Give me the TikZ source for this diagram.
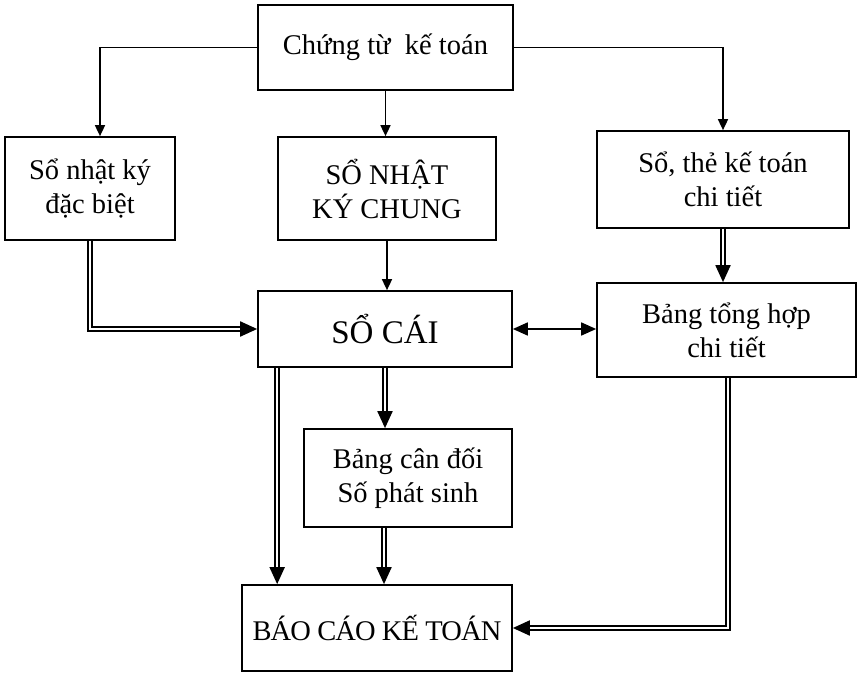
\documentclass[tikz,border=0pt]{standalone}
\usepackage{fontspec}
\setmainfont{Liberation Serif}
\usetikzlibrary{arrows.meta,calc}

\begin{document}
\begin{tikzpicture}[
  x=1pt,y=-1pt,
  font=\fontsize{28.5}{34}\selectfont,
  box/.style={draw,line width=1.7pt,align=center,inner sep=2pt},
  arr/.style={-{Triangle[length=11pt,width=10pt]},line width=1.6pt},
  dbl/.style={-{Triangle[length=17pt,width=15pt]},double,double distance=1.8pt,line width=1.9pt},
  both/.style={{Triangle[length=15pt,width=13pt]}-{Triangle[length=15pt,width=13pt]},line width=1.7pt}
]
\useasboundingbox (0,0) rectangle (859,674);

% boxes
\node[box,minimum width=255pt,minimum height=85pt]  (ctu)  at (385.5,47.5) {Chứng từ\ \ kế toán};
\node[box,minimum width=170pt,minimum height=103pt] (nkdb) at (90,188.5) {Sổ nhật ký\\đặc biệt};
\node[box,minimum width=218pt,minimum height=103pt] (nkc)  at (387,188.5) {SỔ NHẬT\\KÝ CHUNG};
\node[box,minimum width=252pt,minimum height=97pt]  (sct)  at (723,179.5) {Sổ, thẻ kế toán\\chi tiết};
\node[box,minimum width=254pt,minimum height=76pt,font=\fontsize{33}{38}\selectfont] (soc) at (385,329) {SỔ CÁI};
\node[box,minimum width=259pt,minimum height=94pt]  (bth)  at (726.5,330) {Bảng tổng hợp\\chi tiết};
\node[box,minimum width=208pt,minimum height=98pt]  (bcd)  at (408,478) {Bảng cân đối\\ Số phát sinh};
\node[box,minimum width=270pt,minimum height=86pt]  (bc)   at (377,628) {\addfontfeature{LetterSpace=-3}BÁO CÁO KẾ TOÁN};

% from source documents
\draw[arr] (ctu.west) -| ([xshift=10pt]nkdb.north);
\draw[arr] (ctu.south) -- (ctu.south |- nkc.north);
\draw[arr] (ctu.east) -| (sct.north);

% into the ledger
\draw[dbl] (nkdb.south) |- (soc.west);
\draw[arr] (nkc.south) -- (nkc.south |- soc.north);
\draw[dbl] (sct.south) -- (sct.south |- bth.north);
\draw[both] (soc.east) -- (soc.east -| bth.west);

% to the reports
\draw[dbl] (soc.south) -- (soc.south |- bcd.north);
\draw[dbl] ([xshift=20pt]soc.south west) -- ([xshift=20pt]soc.south west |- bc.north);
\draw[dbl] ([xshift=-24pt]bcd.south) -- ([xshift=-24pt]bcd.south |- bc.north);
\draw[dbl] ([xshift=1.5pt]bth.south) |- (bc.east);
\end{tikzpicture}
\end{document}
